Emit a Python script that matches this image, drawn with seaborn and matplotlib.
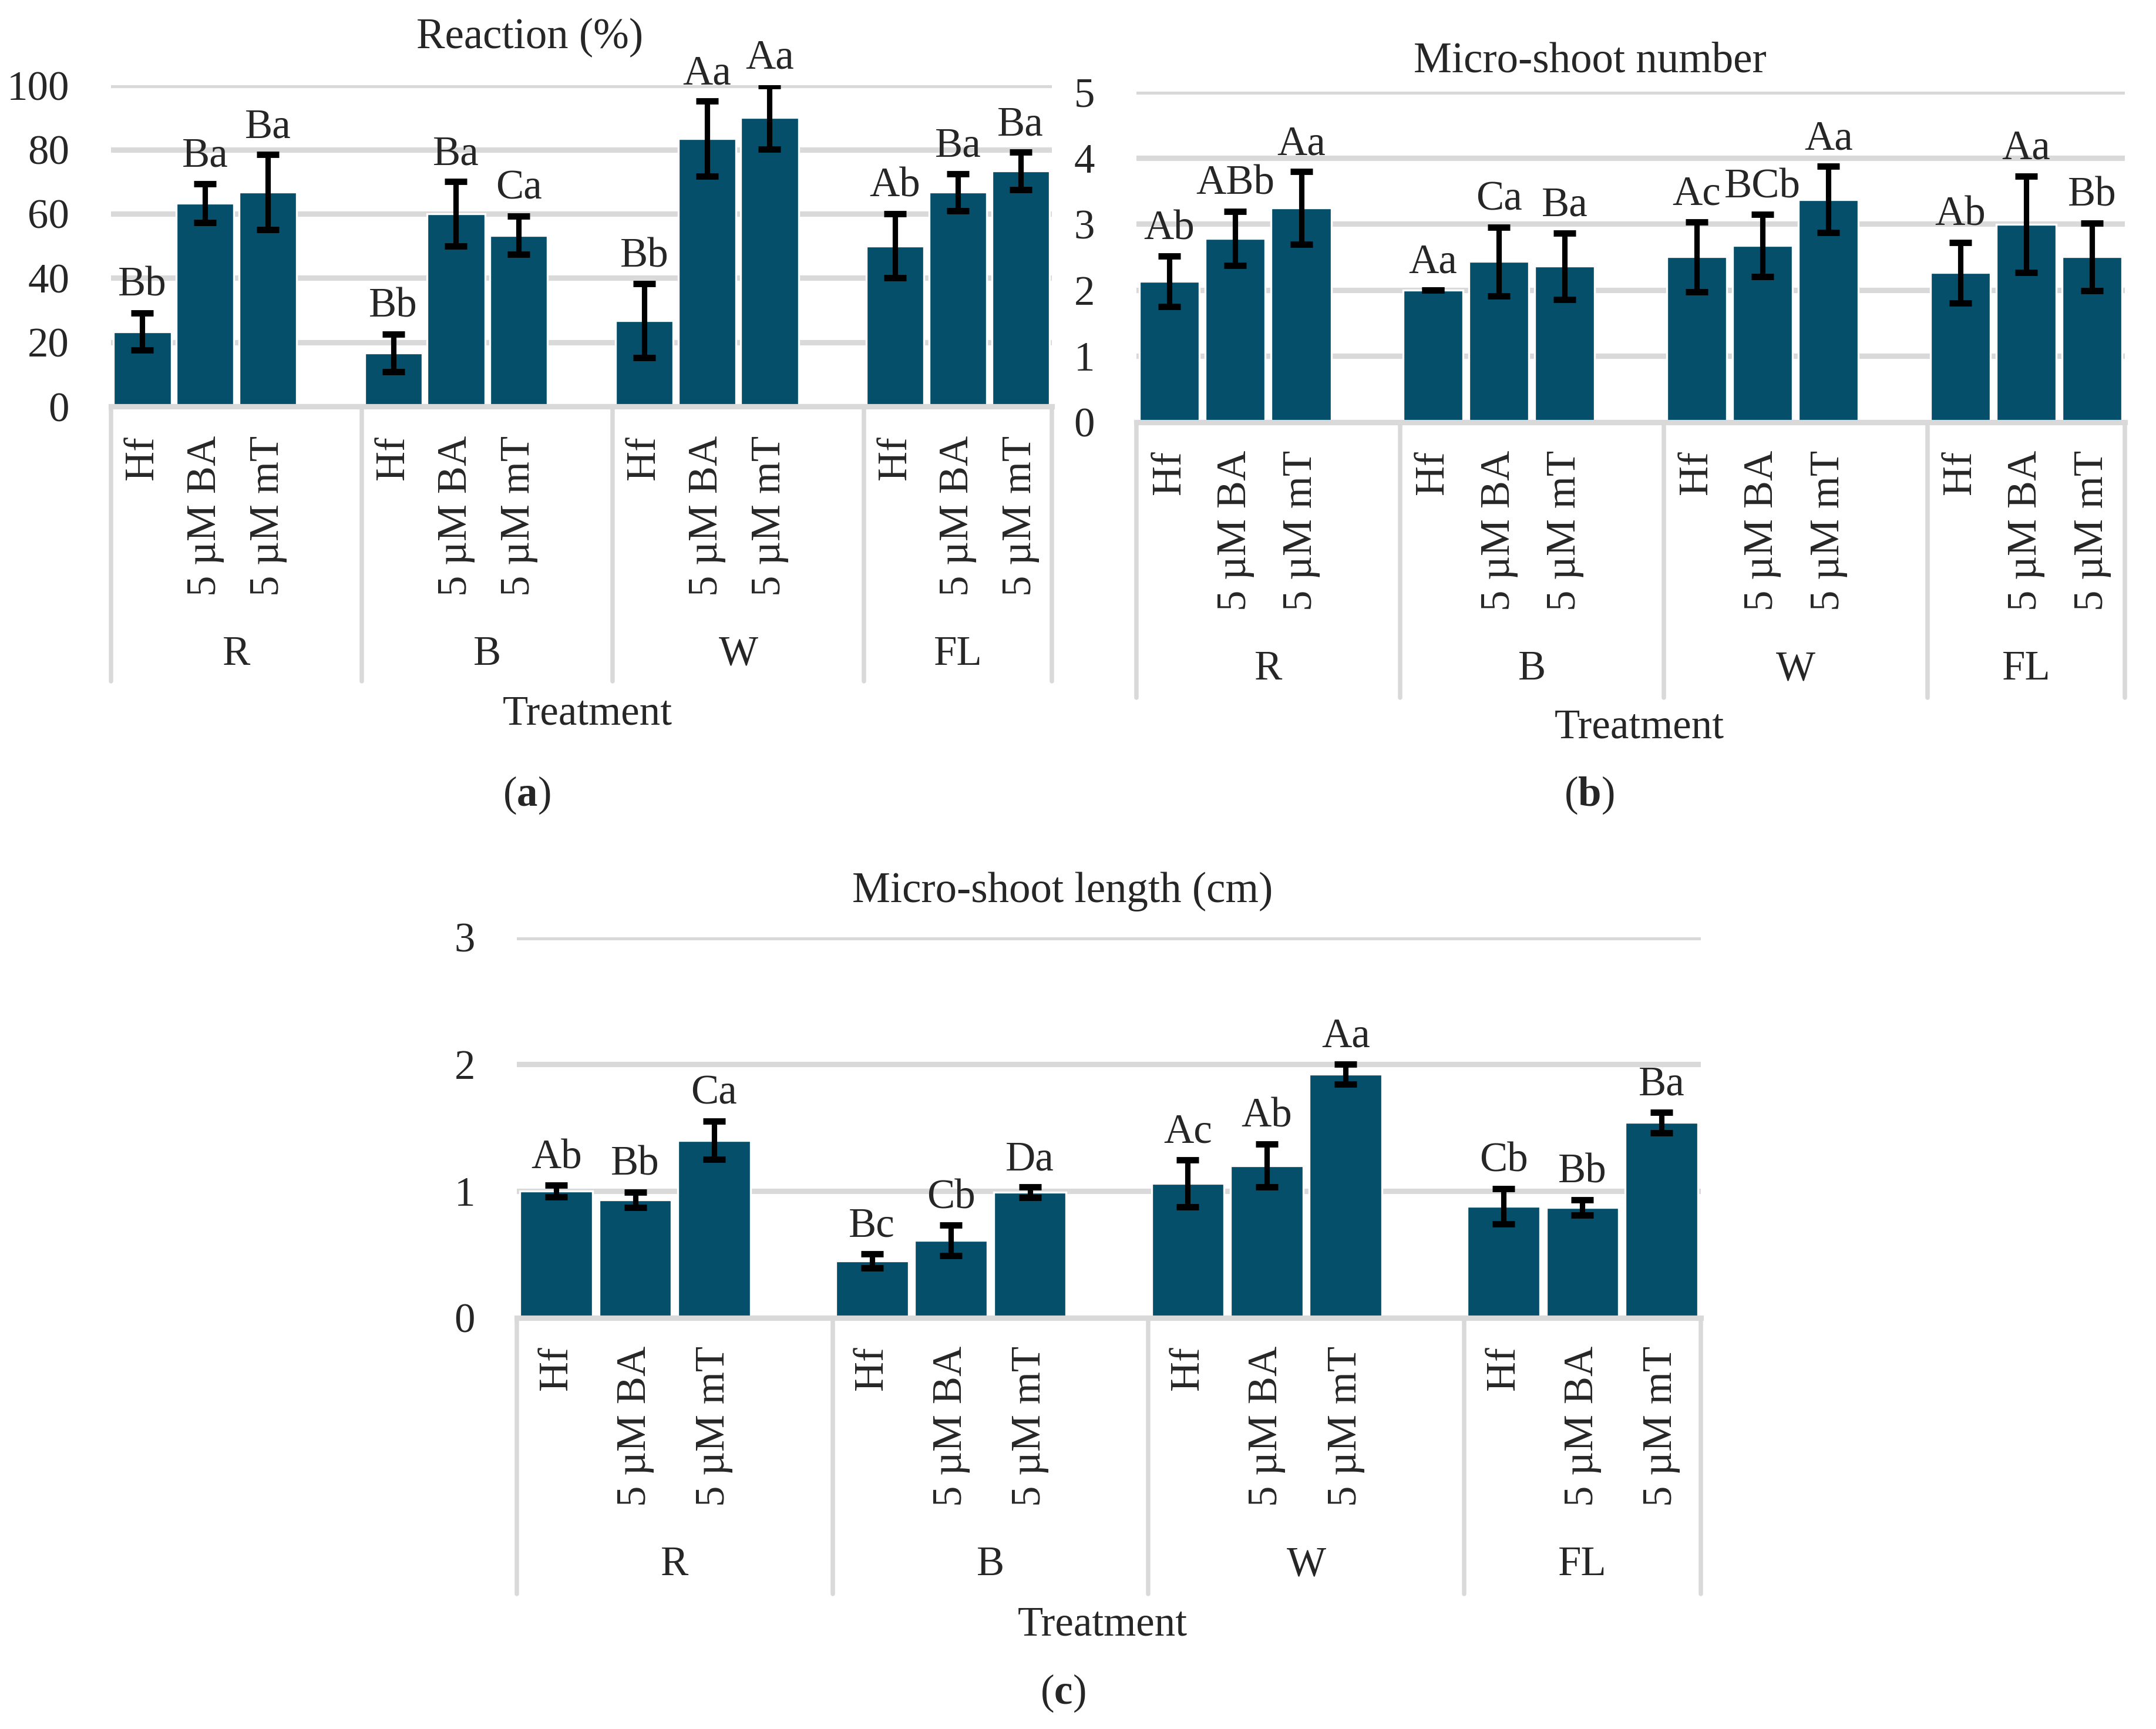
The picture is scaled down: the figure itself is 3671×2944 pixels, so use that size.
"""Three bar panels: reaction, micro-shoot number and micro-shoot length per light/medium."""

import matplotlib as mpl

mpl.use("Agg")

import matplotlib.pyplot as plt
import matplotlib.transforms as mtransforms
import pandas as pd
import seaborn as sns

sns.set_theme(style="white", context="paper")
plt.rcParams["font.family"] = ["Liberation Serif", "DejaVu Serif"]
plt.rcParams["mathtext.fontset"] = "custom"
plt.rcParams["mathtext.rm"] = "Liberation Serif"
plt.rcParams["mathtext.bf"] = "Liberation Serif:bold"

BAR_COLOR = "#054F6B"
GRID_COLOR = "#D9D9D9"
FS = 17

GROUPS = ["R", "B", "W", "FL"]
MEDIA = ["Hf", "5 µM BA", "5 µM mT"]

REACTION_MEAN = [23.3, 63.3, 66.7, 16.7, 60.0, 53.3, 26.7, 83.3, 90.0, 50.0, 66.7, 73.3]
REACTION_ERR = [5.8, 6.0, 11.7, 5.8, 10.0, 6.0, 11.5, 11.7, 9.9, 10.0, 5.8, 5.8]
REACTION_LETTERS = ["Bb", "Ba", "Ba", "Bb", "Ba", "Ca", "Bb", "Aa", "Aa", "Ab", "Ba", "Ba"]

NUMBER_MEAN = [2.13, 2.78, 3.24, 2.0, 2.43, 2.36, 2.5, 2.67, 3.37, 2.26, 2.99, 2.5]
NUMBER_ERR = [0.38, 0.41, 0.55, 0.0, 0.52, 0.5, 0.53, 0.47, 0.5, 0.46, 0.73, 0.51]
NUMBER_LETTERS = ["Ab", "ABb", "Aa", "Aa", "Ca", "Ba", "Ac", "BCb", "Aa", "Ab", "Aa", "Bb"]

LENGTH_MEAN = [1.0, 0.93, 1.4, 0.45, 0.61, 0.99, 1.06, 1.2, 1.92, 0.88, 0.87, 1.54]
LENGTH_ERR = [0.045, 0.06, 0.15, 0.055, 0.12, 0.04, 0.185, 0.17, 0.08, 0.14, 0.06, 0.08]
LENGTH_LETTERS = ["Ab", "Bb", "Ca", "Bc", "Cb", "Da", "Ac", "Ab", "Aa", "Cb", "Bb", "Ba"]

# category slots: 3 media per light, an empty slot between lights
SLOT_KEYS = [f"{g}|{m}" for g in GROUPS for m in MEDIA]
ORDER = []
for gi, g in enumerate(GROUPS):
    ORDER += [f"{g}|{m}" for m in MEDIA]
    if gi < len(GROUPS) - 1:
        ORDER.append(f"{g}|gap")


def draw_panel(fig, rect, means, errs, letters, ymax, ystep, title, title_xy,
               label_top, group_y, sep_bottom, xlabel_xy, tag, tag_xy, bar_width):
    ax = fig.add_axes(rect)
    df = pd.DataFrame({"slot": SLOT_KEYS, "value": means})
    sns.barplot(data=df, x="slot", y="value", order=ORDER, color=BAR_COLOR,
                saturation=1, width=bar_width, errorbar=None, ax=ax, zorder=2)
    pos = [ORDER.index(k) for k in SLOT_KEYS]
    ax.errorbar(pos, means, yerr=errs, fmt="none", ecolor="black",
                elinewidth=2.2, capsize=4.5, capthick=2.6, zorder=3)
    for x, m, e, lab in zip(pos, means, errs, letters):
        ax.annotate(lab, (x, m + e), xytext=(0, 7), textcoords="offset points",
                    ha="center", va="baseline", fontsize=FS, annotation_clip=False)

    ax.set_xlim(-0.5, len(ORDER) - 0.5)
    ax.set_ylim(0, ymax)
    ticks = [i * ystep for i in range(int(round(ymax / ystep)) + 1)]
    ax.set_yticks(ticks)
    ax.set_yticklabels([f"{t:g}" for t in ticks], fontsize=FS)
    ax.tick_params(axis="y", length=0, pad=17)
    ax.set_xticks([])
    ax.set_xlabel("")
    ax.set_ylabel("")
    ax.yaxis.grid(True, color=GRID_COLOR, lw=2.2)
    ax.set_axisbelow(True)
    for side in ["left", "right", "top"]:
        ax.spines[side].set_visible(False)
    ax.spines["bottom"].set_color(GRID_COLOR)
    ax.spines["bottom"].set_linewidth(2.2)

    # two-level category axis below the plot
    trans = mtransforms.blended_transform_factory(ax.transData, fig.transFigure)
    ax_bottom = rect[1]
    for x, key in zip(pos, SLOT_KEYS):
        ax.text(x, label_top, key.split("|")[1], rotation=90, ha="center", va="top",
                fontsize=FS, transform=trans, clip_on=False)
    seps = [-0.5] + [ORDER.index(f"{g}|gap") + 0.5 for g in GROUPS[:-1]] + [len(ORDER) - 0.5]
    for s in seps:
        ax.plot([s, s], [ax_bottom, sep_bottom], color=GRID_COLOR, lw=1.8,
                transform=trans, clip_on=False)
    for g, lo, hi in zip(GROUPS, seps[:-1], seps[1:]):
        ax.text((lo + hi) / 2, group_y, g, ha="center", va="center", fontsize=FS,
                transform=trans, clip_on=False)

    fig.text(*title_xy, title, ha="center", va="center", fontsize=FS + 0.5)
    fig.text(*xlabel_xy, "Treatment", ha="center", va="center", fontsize=FS)
    fig.text(*tag_xy, "(" + r"$\mathbf{" + tag + "}$" + ")", ha="center", va="center",
             fontsize=FS)
    return ax


fig = plt.figure(figsize=(3671 / 300, 2944 / 300), dpi=300)

draw_panel(fig, [0.0515, 0.7649, 0.4364, 0.1858], REACTION_MEAN, REACTION_ERR,
           REACTION_LETTERS, 100, 20, "Reaction (%)", (0.2457, 0.978),
           0.748, 0.6216, 0.606, (0.2724, 0.587), "a", (0.2443, 0.540), 0.92)

draw_panel(fig, [0.5271, 0.7558, 0.4585, 0.1912], NUMBER_MEAN, NUMBER_ERR,
           NUMBER_LETTERS, 5, 1, "Micro-shoot number", (0.7374, 0.9643),
           0.7395, 0.6128, 0.5965, (0.7603, 0.579), "b", (0.737, 0.540), 0.91)

draw_panel(fig, [0.2397, 0.2378, 0.5492, 0.2201], LENGTH_MEAN, LENGTH_ERR,
           LENGTH_LETTERS, 3, 1, "Micro-shoot length (cm)", (0.4928, 0.4844),
           0.2214, 0.0948, 0.0781, (0.5113, 0.0601), "c", (0.493, 0.0207), 0.92)

fig.savefig("out.png", dpi=300, facecolor="white")
plt.close(fig)
